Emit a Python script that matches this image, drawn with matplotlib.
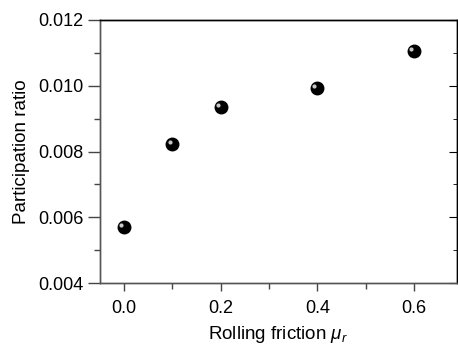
import matplotlib
matplotlib.use("Agg")
import matplotlib.pyplot as plt
from matplotlib.ticker import MultipleLocator

plt.rcParams['font.family'] = ['Liberation Sans', 'DejaVu Sans']
plt.rcParams['mathtext.fontset'] = 'custom'
plt.rcParams['mathtext.it'] = 'Liberation Sans:italic'
plt.rcParams['mathtext.rm'] = 'Liberation Sans'

# data
mu_r = [0.0, 0.1, 0.2, 0.4, 0.6]
ratio = [0.00570, 0.00823, 0.00935, 0.00992, 0.01107]
xticks = [0.0, 0.2, 0.4, 0.6]
yticks = [0.004, 0.006, 0.008, 0.010, 0.012]

fig = plt.figure(figsize=(4.58, 3.47), dpi=100)
ax = fig.add_axes([100 / 458, 1 - 283 / 347, 357 / 458, 263 / 347])

# shaded sphere look: black ball with a small light highlight
ax.plot(mu_r, ratio, 'o', color='black', markersize=9, zorder=3)
ax.plot([x - 0.006 for x in mu_r], [y + 0.00006 for y in ratio], 'o',
        color='#c8c8c8', markersize=3, markeredgewidth=0, zorder=4)

ax.set_xlim(-0.05, 0.689)
ax.set_ylim(0.004, 0.012)
ax.set_xticks(xticks)
ax.set_xticklabels(['%.1f' % v for v in xticks])
ax.set_yticks(yticks)
ax.set_yticklabels(['%.3f' % v for v in yticks])
ax.xaxis.set_minor_locator(MultipleLocator(0.1))
ax.yaxis.set_minor_locator(MultipleLocator(0.001))

ax.tick_params(axis='x', which='major', direction='out', length=6, width=1, labelsize=13, pad=6)
ax.tick_params(axis='x', which='minor', direction='out', length=4, width=1)
ax.tick_params(axis='y', which='major', direction='out', length=9, width=1, labelsize=13, pad=3)
ax.tick_params(axis='y', which='minor', direction='out', length=4, width=1)
ax.tick_params(which='both', color='#444444')

# inward ticks on the right side
ax2 = ax.twinx()
ax2.set_ylim(ax.get_ylim())
ax2.set_yticks(yticks)
ax2.yaxis.set_minor_locator(MultipleLocator(0.001))
ax2.tick_params(axis='y', which='major', direction='in', length=6, labelright=False)
ax2.tick_params(axis='y', which='minor', direction='in', length=3)

for a in (ax, ax2):
    for s in a.spines.values():
        s.set_linewidth(1.0)
    a.spines['left'].set_color('#555555')
    a.spines['bottom'].set_color('#555555')

ax.set_xlabel(r'Rolling friction $\mu_r$', fontsize=13.5, labelpad=5)
ax.set_ylabel('Participation ratio', fontsize=13.5, labelpad=6)

fig.savefig('out.png', dpi=100)
